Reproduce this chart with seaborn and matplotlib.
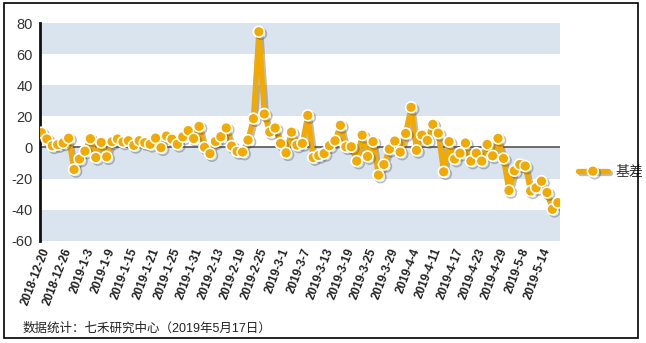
import numpy as np
import pandas as pd
import matplotlib
matplotlib.use("Agg")
import matplotlib.pyplot as plt
import matplotlib.patheffects as pe
from matplotlib.patches import Rectangle
import seaborn as sns

# Exchange trading days between 2018-12-20 and 2019-05-17
holidays = ["2018-12-31", "2019-01-01", "2019-02-04", "2019-02-05", "2019-02-06",
            "2019-02-07", "2019-02-08", "2019-04-05", "2019-05-01", "2019-05-02",
            "2019-05-03"]
trade_days = pd.bdate_range("2018-12-20", "2019-05-17", freq="C", holidays=holidays)
dates = [f"{d.year}-{d.month}-{d.day}" for d in trade_days]

# Daily basis
basis = [
    9.5, 5.4, 1.0, 1.8, 2.9, 5.9, -14.2, -7.5, -2.4, 5.6,
    -6.5, 3.2, -6.0, 3.7, 5.4, 3.5, 4.3, 1.3, 4.3, 3.0,
    2.0, 6.0, -0.2, 7.3, 5.3, 2.0, 6.8, 10.8, 5.7, 13.5,
    0.1, -4.0, 3.8, 6.9, 12.5, 0.9, -2.6, -3.0, 4.7, 18.5,
    74.4, 21.5, 9.9, 12.5, 2.6, -3.5, 9.8, 1.5, 2.6, 20.6,
    -6.5, -5.2, -3.9, 1.1, 4.3, 14.2, 0.4, 0.4, -8.8, 7.9,
    -5.8, 3.7, -17.8, -11.0, -1.1, 4.1, -3.0, 9.0, 25.8, -1.9,
    7.9, 4.5, 14.8, 9.2, -15.7, 3.7, -7.5, -3.7, 2.8, -8.8,
    -3.7, -8.8, 1.9, -5.4, 5.8, -7.1, -27.7, -15.0, -11.0, -12.0,
    -28.0, -26.0, -21.7, -29.0, -39.8, -35.5,
]
series_name = "基差"
y_ticks = [-60, -40, -20, 0, 20, 40, 60, 80]
tick_step = 4
footer = "数据统计：七禾研究中心（2019年5月17日）"

df = pd.DataFrame({"idx": np.arange(len(basis)), "basis": basis, "date": dates})

sns.set_theme(style="white")
plt.rcParams["font.family"] = ["Liberation Sans", "Noto Sans CJK SC", "DejaVu Sans"]

W, H = 646, 343
fig = plt.figure(figsize=(W / 100, H / 100), dpi=100)
ax = fig.add_axes([39.5 / W, 1 - 240.7 / H, (560 - 39.5) / W, (240.7 - 23) / H])

# alternating horizontal bands
for lo, hi in [(60, 80), (20, 40), (-20, 0), (-60, -40)]:
    ax.axhspan(lo, hi, color="#d9e4ef", lw=0, zorder=0)
ax.axhline(0, color="#555555", lw=1.2, zorder=1)

orange = "#f2a900"
sns.lineplot(data=df, x="idx", y="basis", ax=ax, color=orange, lw=3.8,
             marker="o", markersize=7.8, markerfacecolor=orange,
             markeredgecolor="white", markeredgewidth=1.2,
             label=series_name, zorder=3)
line = ax.lines[-1]
line.set_path_effects([pe.SimpleLineShadow(offset=(1.5, -1.5), shadow_color="#444444", alpha=0.35),
                       pe.Normal()])

ax.set_xlim(-0.35, len(basis) - 0.6)
ax.set_ylim(-60, 80)
ax.set_yticks(y_ticks)
ax.set_yticklabels([str(v) for v in y_ticks], fontsize=10.5, color="#333333")
tick_pos = list(range(0, len(basis), tick_step))
ax.set_xticks(tick_pos)
ax.set_xticklabels([dates[i] for i in tick_pos], rotation=69, ha="right",
                   rotation_mode="anchor", fontsize=8.5, fontweight="bold", color="#222222")
ax.tick_params(axis="both", length=0)
ax.tick_params(axis="y", pad=5)
ax.tick_params(axis="x", pad=4)
ax.set_xlabel("")
ax.set_ylabel("")

for s in ["top", "right", "bottom"]:
    ax.spines[s].set_visible(False)
ax.spines["left"].set_color("#111111")
ax.spines["left"].set_linewidth(2)

leg = ax.legend(loc="center left", bbox_to_anchor=(572 / W, 1 - 172 / H),
                bbox_transform=fig.transFigure, frameon=False, fontsize=10,
                handlelength=2.2, handletextpad=0.5, borderaxespad=0)
for t in leg.get_texts():
    t.set_color("#333333")

fig.text(23 / W, 1 - 329 / H, footer, fontsize=9, color="#222222", va="center", ha="left")

# outer frame
fig.patches.append(Rectangle((4 / W, 5 / H), (638 - 4) / W, (340 - 5) / H,
                             transform=fig.transFigure, fill=False,
                             edgecolor="black", lw=1.2))

fig.savefig("out.png", dpi=100)
